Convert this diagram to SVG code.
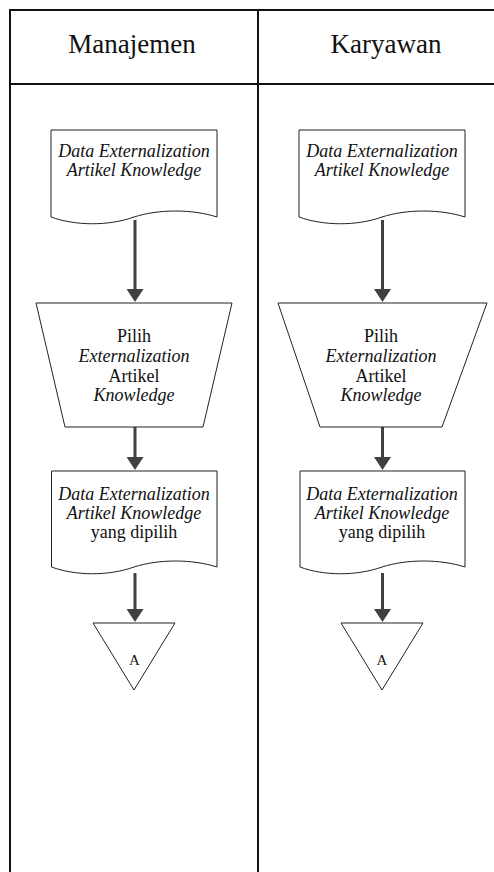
<svg xmlns="http://www.w3.org/2000/svg" width="494" height="872" viewBox="0 0 494 872">
<style>
text{font-family:'Liberation Serif','Times New Roman',serif;fill:#111;text-anchor:middle}
.hd{font-size:27px}
.t{font-size:18px}
.i{font-style:italic}
.a{font-size:15px}
.lane{stroke:#111;stroke-width:2;fill:none}
.shape{fill:#fff;stroke:#222;stroke-width:1}
.conn{stroke:#404040;stroke-width:3;fill:none;marker-end:url(#ah)}
</style>
<defs>
<marker id="ah" markerUnits="userSpaceOnUse" viewBox="0 0 13 17" refX="3" refY="8.5" markerWidth="13" markerHeight="17" orient="auto">
<path d="M0,0 L13,8.5 L0,17 Z" fill="#404040"/>
</marker>
</defs>
<rect width="494" height="872" fill="#fff"/>
<g id="lanes">
<path class="lane" d="M10,872 V10 H494 M10,84 H494 M258,10 V872"/>
<text class="hd" x="132" y="53">Manajemen</text>
<text class="hd" x="386" y="53">Karyawan</text>
</g>
<g id="connectors">
<line class="conn" x1="135" y1="220" x2="135" y2="292"/>
<line class="conn" x1="135" y1="427" x2="135" y2="460"/>
<line class="conn" x1="135" y1="573" x2="135" y2="612"/>
<line class="conn" x1="382.5" y1="220" x2="382.5" y2="292"/>
<line class="conn" x1="382.5" y1="427" x2="382.5" y2="460"/>
<line class="conn" x1="382.5" y1="573" x2="382.5" y2="612"/>
</g>
<g id="m_doc1">
<path class="shape" d="M51,130 H217 V217 C192,209 159,209 134,217 C109,226 76,226 51,217 Z"/>
<text class="t i" x="134" y="157">Data Externalization</text>
<text class="t i" x="134" y="176">Artikel Knowledge</text>
</g>
<g id="m_pilih">
<path class="shape" d="M36,303 H232 L203,427 H65 Z"/>
<text class="t" x="134" y="342">Pilih</text>
<text class="t i" x="134" y="362">Externalization</text>
<text class="t" x="134" y="382">Artikel</text>
<text class="t i" x="134" y="401">Knowledge</text>
</g>
<g id="m_doc2">
<path class="shape" d="M51.5,471 H217 V567 C192,559 159,559 134,567 C109,576 76,576 51.5,567 Z"/>
<text class="t i" x="134" y="500">Data Externalization</text>
<text class="t i" x="134" y="519">Artikel Knowledge</text>
<text class="t" x="134" y="538">yang dipilih</text>
</g>
<g id="m_a">
<path class="shape" d="M93,623 H175 L134,690 Z"/>
<text class="a" x="134.5" y="665">A</text>
</g>
<g id="k_doc1">
<path class="shape" d="M299,130 H465 V217 C440,209 407,209 382,217 C357,226 324,226 299,217 Z"/>
<text class="t i" x="382" y="157">Data Externalization</text>
<text class="t i" x="382" y="176">Artikel Knowledge</text>
</g>
<g id="k_pilih">
<path class="shape" d="M278,303 H487 L442,427 H320 Z"/>
<text class="t" x="381" y="342">Pilih</text>
<text class="t i" x="381" y="362">Externalization</text>
<text class="t" x="381" y="382">Artikel</text>
<text class="t i" x="381" y="401">Knowledge</text>
</g>
<g id="k_doc2">
<path class="shape" d="M300,471 H465 V567 C440,559 407,559 382,567 C357,576 324,576 300,567 Z"/>
<text class="t i" x="382" y="500">Data Externalization</text>
<text class="t i" x="382" y="519">Artikel Knowledge</text>
<text class="t" x="382" y="538">yang dipilih</text>
</g>
<g id="k_a">
<path class="shape" d="M341,623 H423 L382,690 Z"/>
<text class="a" x="382" y="665">A</text>
</g>
</svg>
